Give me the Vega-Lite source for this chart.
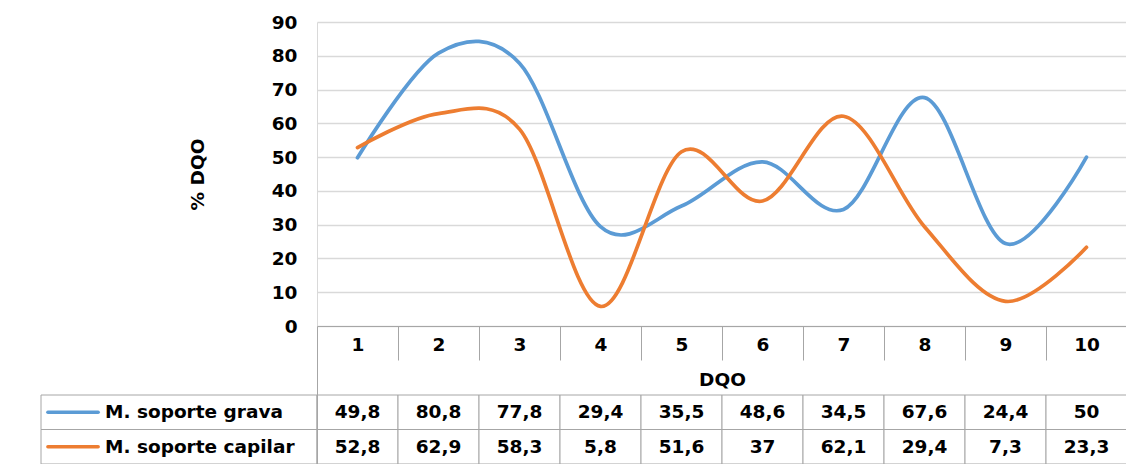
{
  "$schema": "https://vega.github.io/schema/vega-lite/v6.json",
  "padding": {"left": 40, "top": 13, "right": 0, "bottom": 0},
  "background": "white",
  "bounds": "flush",
  "columns": 2,
  "spacing": {"row": 0, "column": 0},
  "config": {
    "font": "DejaVu Sans",
    "view": {"stroke": null},
    "locale": {
      "number": {"decimal": ",", "thousands": ".", "grouping": [3], "currency": ["", " €"]}
    },
    "axis": {
      "labelFont": "DejaVu Sans",
      "labelFontSize": 18.5,
      "labelFontWeight": "bold",
      "labelColor": "#000000",
      "titleFont": "DejaVu Sans",
      "titleFontSize": 18.5,
      "titleFontWeight": "bold",
      "titleColor": "#000000"
    },
    "text": {"font": "DejaVu Sans", "fontSize": 18.5, "fontWeight": "bold", "color": "#000000"}
  },
  "datasets": {
    "dqo": [
      {"cat": 1, "serie": "M. soporte grava", "value": 49.8},
      {"cat": 2, "serie": "M. soporte grava", "value": 80.8},
      {"cat": 3, "serie": "M. soporte grava", "value": 77.8},
      {"cat": 4, "serie": "M. soporte grava", "value": 29.4},
      {"cat": 5, "serie": "M. soporte grava", "value": 35.5},
      {"cat": 6, "serie": "M. soporte grava", "value": 48.6},
      {"cat": 7, "serie": "M. soporte grava", "value": 34.5},
      {"cat": 8, "serie": "M. soporte grava", "value": 67.6},
      {"cat": 9, "serie": "M. soporte grava", "value": 24.4},
      {"cat": 10, "serie": "M. soporte grava", "value": 50},
      {"cat": 1, "serie": "M. soporte capilar", "value": 52.8},
      {"cat": 2, "serie": "M. soporte capilar", "value": 62.9},
      {"cat": 3, "serie": "M. soporte capilar", "value": 58.3},
      {"cat": 4, "serie": "M. soporte capilar", "value": 5.8},
      {"cat": 5, "serie": "M. soporte capilar", "value": 51.6},
      {"cat": 6, "serie": "M. soporte capilar", "value": 37},
      {"cat": 7, "serie": "M. soporte capilar", "value": 62.1},
      {"cat": 8, "serie": "M. soporte capilar", "value": 29.4},
      {"cat": 9, "serie": "M. soporte capilar", "value": 7.3},
      {"cat": 10, "serie": "M. soporte capilar", "value": 23.3}
    ],
    "series": [
      {"serie": "M. soporte grava"},
      {"serie": "M. soporte capilar"}
    ]
  },
  "concat": [
    {
      "width": 276,
      "height": 304,
      "data": {"values": [{}]},
      "mark": {"type": "text"},
      "encoding": {"text": {"value": ""}}
    },
    {
      "width": 810,
      "height": 304,
      "data": {"name": "dqo"},
      "mark": {"type": "line", "interpolate": "cardinal", "tension": 0, "strokeWidth": 3.7, "strokeCap": "round"},
      "encoding": {
        "x": {
          "field": "cat",
          "type": "ordinal",
          "bandPosition": 0.5,
          "scale": {"type": "band", "paddingInner": 0, "paddingOuter": 0},
          "axis": {
            "title": "DQO",
            "labelAngle": 0,
            "tickBand": "extent",
            "tickSize": 34,
            "tickColor": "#a6a6a6",
            "domainColor": "#a6a6a6",
            "labelBaseline": "top",
            "labelPadding": -25,
            "titlePadding": 10,
            "grid": false
          }
        },
        "y": {
          "field": "value",
          "type": "quantitative",
          "scale": {"domain": [0, 90], "nice": false},
          "axis": {
            "title": "% DQO",
            "values": [0, 10, 20, 30, 40, 50, 60, 70, 80, 90],
            "ticks": false,
            "labelPadding": 20,
            "titlePadding": 64,
            "domainColor": "#d9d9d9",
            "gridColor": "#d9d9d9",
            "gridWidth": 1.3
          }
        },
        "color": {
          "field": "serie",
          "type": "nominal",
          "scale": {"domain": ["M. soporte grava", "M. soporte capilar"], "range": ["#5B9BD5", "#ED7D31"]},
          "legend": null
        }
      }
    },
    {
      "width": 276,
      "height": 138,
      "data": {"name": "series"},
      "layer": [
        {
          "mark": {"type": "rect", "fill": "white", "stroke": "#a6a6a6", "strokeWidth": 1},
          "encoding": {
            "y": {
              "field": "serie",
              "type": "nominal",
              "scale": {"domain": ["eje", "título", "M. soporte grava", "M. soporte capilar"], "paddingInner": 0, "paddingOuter": 0},
              "axis": null
            }
          }
        },
        {
          "mark": {"type": "rule", "strokeWidth": 3.5, "strokeCap": "round"},
          "encoding": {
            "x": {"datum": 7, "type": "quantitative", "scale": {"domain": [0, 276]}, "axis": null},
            "x2": {"datum": 58},
            "y": {"field": "serie", "type": "nominal"},
            "color": {
              "field": "serie",
              "type": "nominal",
              "scale": {"domain": ["M. soporte grava", "M. soporte capilar"], "range": ["#5B9BD5", "#ED7D31"]},
              "legend": null
            }
          }
        },
        {
          "mark": {"type": "text", "align": "left", "baseline": "middle"},
          "encoding": {
            "x": {"datum": 65, "type": "quantitative"},
            "y": {"field": "serie", "type": "nominal"},
            "text": {"field": "serie"}
          }
        }
      ]
    },
    {
      "width": 810,
      "height": 138,
      "data": {"name": "dqo"},
      "encoding": {
        "x": {
          "field": "cat",
          "type": "ordinal",
          "scale": {"type": "band", "paddingInner": 0, "paddingOuter": 0},
          "axis": null
        },
        "y": {
          "field": "serie",
          "type": "nominal",
          "scale": {"domain": ["eje", "título", "M. soporte grava", "M. soporte capilar"], "paddingInner": 0, "paddingOuter": 0},
          "axis": {"title": null, "labels": false, "ticks": false, "domainColor": "#a6a6a6", "grid": false}
        }
      },
      "layer": [
        {"mark": {"type": "rect", "fill": "white", "stroke": "#a6a6a6", "strokeWidth": 1}},
        {
          "mark": {"type": "text", "align": "center", "baseline": "middle"},
          "encoding": {"text": {"field": "value", "type": "quantitative", "format": "~g"}}
        }
      ]
    }
  ]
}
